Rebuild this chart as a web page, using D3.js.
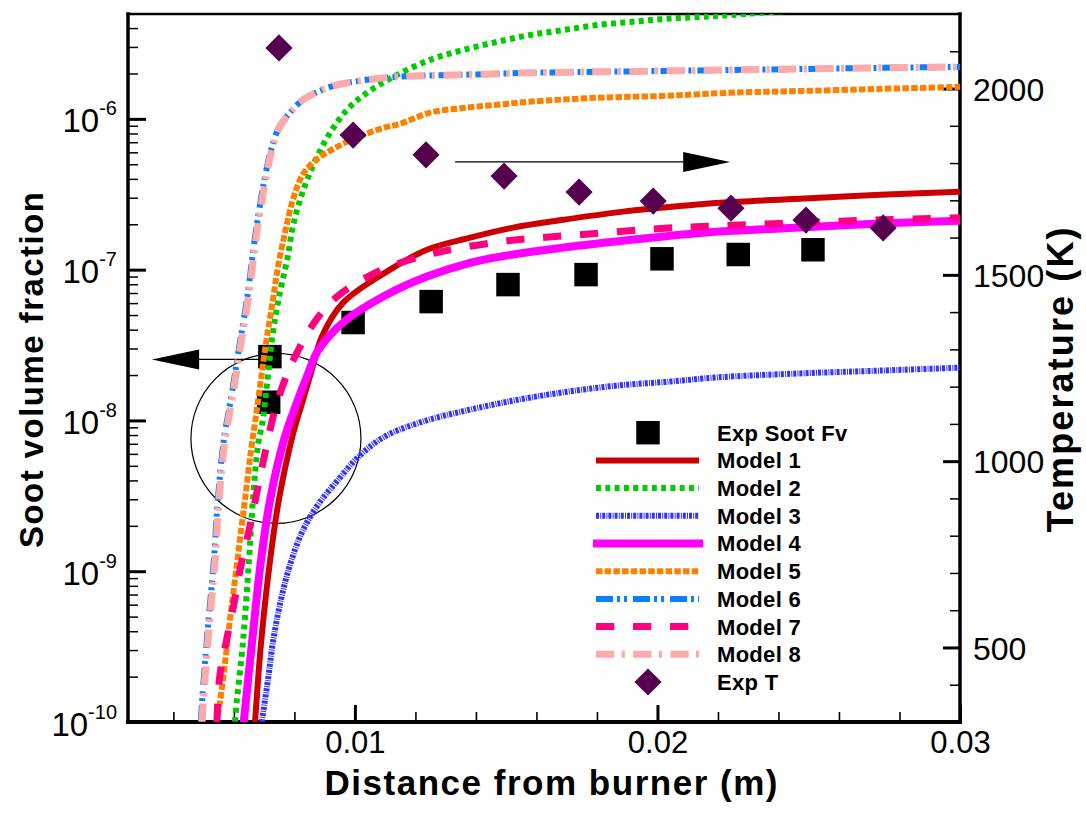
<!DOCTYPE html>
<html>
<head>
<meta charset="utf-8">
<script src="https://cdn.jsdelivr.net/npm/d3@7"></script>
<style>
  html, body { margin: 0; padding: 0; background: #fff; }
  svg { display: block; font-family: "Liberation Sans", Arial, Helvetica, sans-serif; }
</style>
</head>
<body>
<svg id="chart" width="1086" height="815"></svg>
<script>
// ---- axis ranges and ticks ----
const xDomain = [0.0025, 0.03];
const fvDomain = [1e-10, 4.96e-6];
const tDomain = [300, 2200];
const xMajorTicks = [0.01, 0.02, 0.03];
const xMinorTicks = [0.004, 0.006, 0.008, 0.012, 0.014, 0.016, 0.018, 0.022, 0.024, 0.026, 0.028];
const fvMajorTicks = [1e-10, 1e-9, 1e-8, 1e-7, 1e-6];
const tMajorTicks = [500, 1000, 1500, 2000];
const tMinorTicks = [400, 600, 700, 800, 900, 1100, 1200, 1300, 1400, 1600, 1700, 1800, 1900, 2100];

// ---- experimental soot volume fraction ----
const expSootX  = [0.00715, 0.00719, 0.00994, 0.01252, 0.01506, 0.01764, 0.02015, 0.02267, 0.02514];
const expSootFv = [1.32e-8, 2.65e-8, 4.46e-8, 6.14e-8, 7.96e-8, 9.27e-8, 1.18e-7, 1.26e-7, 1.355e-7];

// ---- experimental temperature (K) ----
const expTX = [0.00749, 0.00994, 0.01235, 0.01493, 0.01741, 0.01986, 0.02243, 0.02491, 0.02746];
const expT  = [2109, 1875, 1822, 1765, 1722, 1698, 1679, 1647, 1626];

// ---- model soot volume fraction profiles: [distance (m), fv] ----
const model1 = [[0.00660,5.69e-11],[0.00670,1.02e-10],[0.00690,3.39e-10],[0.00720,1.20e-9],[0.00749,3.00e-9],[0.00795,8.07e-9],[0.00829,1.38e-8],[0.00858,2.18e-8],[0.00891,3.60e-8],[0.00961,6.04e-8],[0.01100,9.55e-8],[0.01238,1.355e-7],[0.01381,1.63e-7],[0.01523,1.90e-7],[0.01688,2.14e-7],[0.01853,2.38e-7],[0.02019,2.58e-7],[0.02207,2.78e-7],[0.02471,2.95e-7],[0.02736,3.14e-7],[0.03000,3.29e-7]];
const model2 = [[0.00600,5.69e-11],[0.00604,1.02e-10],[0.00630,3.39e-10],[0.00650,1.20e-9],[0.00663,3.0e-9],[0.00680,6.93e-9],[0.00696,1.02e-8],[0.00710,1.79e-8],[0.00729,3.83e-8],[0.00752,7.05e-8],[0.00776,1.16e-7],[0.00795,1.93e-7],[0.00819,2.91e-7],[0.00842,3.94e-7],[0.00875,5.60e-7],[0.00918,8.08e-7],[0.00974,1.15e-6],[0.01040,1.49e-6],[0.01133,1.93e-6],[0.01248,2.46e-6],[0.01357,2.86e-6],[0.01470,3.24e-6],[0.01579,3.60e-6],[0.01688,3.88e-6],[0.01800,4.19e-6],[0.01910,4.39e-6],[0.02019,4.59e-6],[0.02131,4.73e-6],[0.02240,4.88e-6],[0.02471,5.27e-6],[0.02736,5.60e-6],[0.03000,5.86e-6]];
const model3 = [[0.00676,5.69e-11],[0.00693,1.02e-10],[0.00713,1.93e-10],[0.00729,3.39e-10],[0.00756,6.53e-10],[0.00786,1.11e-9],[0.00826,1.83e-9],[0.00879,2.78e-9],[0.00945,4.05e-9],[0.01010,5.69e-9],[0.01093,7.71e-9],[0.01215,9.70e-9],[0.01381,1.18e-8],[0.01546,1.38e-8],[0.01711,1.56e-8],[0.01876,1.71e-8],[0.02042,1.81e-8],[0.02197,1.93e-8],[0.02471,2.05e-8],[0.02736,2.14e-8],[0.03000,2.24e-8]];
const model4 = [[0.00620,5.69e-11],[0.00633,1.02e-10],[0.00660,3.39e-10],[0.00690,1.20e-9],[0.00720,3.0e-9],[0.00766,7.48e-9],[0.00806,1.28e-8],[0.00842,1.97e-8],[0.00878,2.90e-8],[0.00961,4.46e-8],[0.01100,6.73e-8],[0.01238,9.0e-8],[0.01381,1.11e-7],[0.01523,1.26e-7],[0.01688,1.40e-7],[0.01853,1.53e-7],[0.02019,1.66e-7],[0.02207,1.79e-7],[0.02471,1.90e-7],[0.02736,2.02e-7],[0.03000,2.11e-7]];
const model5 = [[0.00541,5.69e-11],[0.00544,1.02e-10],[0.00554,1.36e-10],[0.00571,2.49e-10],[0.00587,4.81e-10],[0.00604,8.85e-10],[0.00620,1.63e-9],[0.00637,3.0e-9],[0.00657,6.43e-9],[0.00676,1.18e-8],[0.00703,2.95e-8],[0.00729,6.32e-8],[0.00746,1.05e-7],[0.00769,1.76e-7],[0.00795,2.91e-7],[0.00829,4.32e-7],[0.00875,5.41e-7],[0.00928,6.32e-7],[0.00994,7.34e-7],[0.01093,8.71e-7],[0.01149,9.27e-7],[0.01248,1.10e-6],[0.01357,1.18e-6],[0.01470,1.24e-6],[0.01579,1.30e-6],[0.01800,1.38e-6],[0.02019,1.42e-6],[0.02240,1.49e-6],[0.02471,1.53e-6],[0.02736,1.58e-6],[0.03000,1.63e-6]];
const model6 = [[0.00487,5.69e-11],[0.00491,1.02e-10],[0.00510,3.39e-10],[0.00534,1.20e-9],[0.00547,3.0e-9],[0.00567,7.48e-9],[0.00590,1.38e-8],[0.00616,2.95e-8],[0.00643,6.32e-8],[0.00672,1.76e-7],[0.00699,3.77e-7],[0.00723,6.24e-7],[0.00750,8.85e-7],[0.00785,1.10e-6],[0.00829,1.34e-6],[0.00918,1.63e-6],[0.00994,1.76e-6],[0.01093,1.87e-6],[0.01215,1.93e-6],[0.01357,1.96e-6],[0.01579,2.02e-6],[0.01800,2.05e-6],[0.02019,2.08e-6],[0.02240,2.11e-6],[0.02471,2.14e-6],[0.02736,2.18e-6],[0.03000,2.21e-6]];
const model7 = [[0.00541,5.69e-11],[0.00544,1.02e-10],[0.00553,1.99e-10],[0.00575,3.44e-10],[0.00600,6.04e-10],[0.00622,1.06e-9],[0.00650,1.87e-9],[0.00676,3.33e-9],[0.00702,5.96e-9],[0.00736,1.18e-8],[0.00769,1.87e-8],[0.00802,2.65e-8],[0.00868,4.53e-8],[0.00941,6.62e-8],[0.01043,9.0e-8],[0.01133,1.08e-7],[0.01272,1.30e-7],[0.01513,1.56e-7],[0.01754,1.71e-7],[0.01999,1.87e-7],[0.02207,1.95e-7],[0.02471,2.05e-7],[0.02736,2.14e-7],[0.03000,2.21e-7]];
const model8 = [[0.00491,5.69e-11],[0.00495,1.02e-10],[0.00514,3.39e-10],[0.00538,1.20e-9],[0.00551,3.0e-9],[0.00571,7.48e-9],[0.00594,1.38e-8],[0.00620,2.95e-8],[0.00647,6.32e-8],[0.00676,1.76e-7],[0.00703,3.77e-7],[0.00726,6.24e-7],[0.00752,8.85e-7],[0.00786,1.10e-6],[0.00829,1.34e-6],[0.00918,1.63e-6],[0.00994,1.76e-6],[0.01093,1.87e-6],[0.01215,1.93e-6],[0.01357,1.96e-6],[0.01579,2.02e-6],[0.01800,2.05e-6],[0.02019,2.08e-6],[0.02240,2.11e-6],[0.02471,2.14e-6],[0.02736,2.18e-6],[0.03000,2.21e-6]];

const modelNames = ["Model 1", "Model 2", "Model 3", "Model 4", "Model 5", "Model 6", "Model 7", "Model 8"];
const modelData = [model1, model2, model3, model4, model5, model6, model7, model8];

// line appearance per model
const modelStyles = [
  { color: "#cc0000", width: 6,   dash: null },
  { color: "#00cc00", width: 6,   dash: "5,4.3" },
  { color: "#3333ff", width: 6,   dash: "3,1.2,1,1" },
  { color: "#ff00ff", width: 8,   dash: null },
  { color: "#ff8000", width: 6,   dash: "6.5,2.2" },
  { color: "#0a80ff", width: 6,   dash: "17,4,3,4,3,6" },
  { color: "#ff0080", width: 7,   dash: "18.3,18.7" },
  { color: "#ffaaaa", width: 7,   dash: "18.3,7.3,3.3,8.3" }
];

// ---- layout ----
const W = 1086, H = 815;
const P = { left: 128, right: 960, top: 14, bottom: 722 };
const FONT = '"Liberation Sans", Arial, Helvetica, sans-serif';

const x  = d3.scaleLinear().domain(xDomain).range([P.left, P.right]);
const y  = d3.scaleLog().domain(fvDomain).range([P.bottom, P.top]);
const yT = d3.scaleLinear().domain(tDomain).range([P.bottom, P.top]);

const svg = d3.select("#chart");
svg.append("rect").attr("width", W).attr("height", H).attr("fill", "#fff");

svg.append("defs").append("clipPath").attr("id", "plot-clip")
  .append("rect")
  .attr("x", P.left).attr("y", P.top)
  .attr("width", P.right - P.left).attr("height", P.bottom - P.top);

// ---- axes ----
function styleAxis(g, width) {
  g.select(".domain").remove();
  g.selectAll(".tick line").attr("stroke", "#000").attr("stroke-width", width);
}

// bottom: distance
const xAxisG = svg.append("g").attr("transform", `translate(0,${P.bottom})`)
  .call(d3.axisBottom(x).tickValues(xMajorTicks).tickSize(-17).tickPadding(9)
        .tickFormat(d3.format(".2f")));
styleAxis(xAxisG, 3);
xAxisG.selectAll(".tick text").attr("font-size", 31).attr("font-family", FONT).attr("fill", "#000");
const xMinorG = svg.append("g").attr("transform", `translate(0,${P.bottom})`)
  .call(d3.axisBottom(x).tickValues(xMinorTicks).tickSize(-10).tickFormat(""));
styleAxis(xMinorG, 1.6);

// left: soot volume fraction (log)
const fvMinor = [];
d3.range(-10, -5).forEach(e => {
  for (let m = 2; m <= 9; m++) {
    const v = m * Math.pow(10, e);
    if (v < fvDomain[1]) fvMinor.push(v);
  }
});
const yMinorG = svg.append("g").attr("transform", `translate(${P.left},0)`)
  .call(d3.axisLeft(y).tickValues(fvMinor).tickSize(-10).tickFormat(""));
styleAxis(yMinorG, 1.5);
const yAxisG = svg.append("g").attr("transform", `translate(${P.left},0)`)
  .call(d3.axisLeft(y).tickValues(fvMajorTicks).tickSize(-18).tickFormat(""));
styleAxis(yAxisG, 3);
yAxisG.selectAll(".tick text").remove();
yAxisG.selectAll(".tick").each(function(d) {
  const exp = Math.round(Math.log10(d));
  const t = d3.select(this).append("text")
    .attr("x", -11).attr("y", 13)
    .attr("text-anchor", "end")
    .attr("font-family", FONT).attr("fill", "#000");
  t.append("tspan").attr("font-size", 33).text("10");
  t.append("tspan").attr("font-size", 20).attr("dy", -17).text(String(exp));
});

// right: temperature
const tMinorG = svg.append("g").attr("transform", `translate(${P.right},0)`)
  .call(d3.axisRight(yT).tickValues(tMinorTicks).tickSize(-10).tickFormat(""));
styleAxis(tMinorG, 1.5);
const tAxisG = svg.append("g").attr("transform", `translate(${P.right},0)`)
  .call(d3.axisRight(yT).tickValues(tMajorTicks).tickSize(-17).tickPadding(13)
        .tickFormat(d3.format("d")));
styleAxis(tAxisG, 3);
tAxisG.selectAll(".tick text").attr("font-size", 32).attr("font-family", FONT)
  .attr("fill", "#000").attr("dy", "0.36em");

// frame
const frame = svg.append("g").attr("stroke", "#000").attr("stroke-linecap", "square");
frame.append("line").attr("x1", P.left).attr("x2", P.right).attr("y1", P.top).attr("y2", P.top).attr("stroke-width", 2.5);
frame.append("line").attr("x1", P.left).attr("x2", P.right).attr("y1", P.bottom).attr("y2", P.bottom).attr("stroke-width", 4);
frame.append("line").attr("x1", P.left).attr("x2", P.left).attr("y1", P.top).attr("y2", P.bottom).attr("stroke-width", 3.5);
frame.append("line").attr("x1", P.right).attr("x2", P.right).attr("y1", P.top).attr("y2", P.bottom).attr("stroke-width", 3.5);

// ---- axis titles ----
svg.append("text")
  .attr("x", 551).attr("y", 795).attr("text-anchor", "middle")
  .attr("font-family", FONT).attr("font-weight", "bold").attr("font-size", 35)
  .attr("textLength", 453).attr("lengthAdjust", "spacing")
  .text("Distance from burner (m)");
svg.append("text")
  .attr("transform", "translate(43,370) rotate(-90)").attr("text-anchor", "middle")
  .attr("font-family", FONT).attr("font-weight", "bold").attr("font-size", 33)
  .attr("textLength", 356).attr("lengthAdjust", "spacing")
  .text("Soot volume fraction");
svg.append("text")
  .attr("transform", "translate(1073,380) rotate(-90)").attr("text-anchor", "middle")
  .attr("font-family", FONT).attr("font-weight", "bold").attr("font-size", 36)
  .attr("textLength", 305).attr("lengthAdjust", "spacing")
  .text("Temperature (K)");

// ---- annotations: highlight circle and axis arrows ----
const ann = svg.append("g").attr("stroke", "#000").attr("fill", "none");
ann.append("circle")
  .attr("cx", x(0.00739)).attr("cy", y(7.6e-9)).attr("r", 85)
  .attr("stroke-width", 1.2);
const leftArrowY = y(2.54e-8);
ann.append("line")
  .attr("x1", x(0.00703)).attr("x2", x(0.00485))
  .attr("y1", leftArrowY).attr("y2", leftArrowY).attr("stroke-width", 1.2);
svg.append("path").attr("fill", "#000")
  .attr("d", `M${x(0.00329)},${leftArrowY} L${x(0.00485)},${leftArrowY - 10} L${x(0.00485)},${leftArrowY + 10} Z`);
const rightArrowY = yT(1803);
ann.append("line")
  .attr("x1", x(0.01331)).attr("x2", x(0.02085))
  .attr("y1", rightArrowY).attr("y2", rightArrowY).attr("stroke-width", 1.2);
svg.append("path").attr("fill", "#000")
  .attr("d", `M${x(0.0224)},${rightArrowY} L${x(0.02085)},${rightArrowY - 10} L${x(0.02085)},${rightArrowY + 10} Z`);

// ---- experimental soot points (under the model curves) ----
const squareSym = d3.symbol(d3.symbolSquare, 23.5 * 23.5);
svg.append("g").selectAll("path")
  .data(expSootX.map((d, i) => [d, expSootFv[i]]))
  .join("path")
  .attr("d", squareSym)
  .attr("transform", d => `translate(${x(d[0])},${y(d[1])})`)
  .attr("fill", "#000");

// ---- model curves ----
const line = d3.line().x(d => x(d[0])).y(d => y(d[1])).curve(d3.curveCatmullRom.alpha(0.5));
const curves = svg.append("g").attr("clip-path", "url(#plot-clip)");
modelData.forEach((data, i) => {
  const s = modelStyles[i];
  curves.append("path")
    .datum(data)
    .attr("d", line)
    .attr("fill", "none")
    .attr("stroke", s.color)
    .attr("stroke-width", s.width)
    .attr("stroke-dasharray", s.dash)
    .attr("stroke-linejoin", "round");
});

// ---- experimental temperature points ----
const diamondSym = d3.symbol(d3.symbolSquare, 19.2 * 19.2);
svg.append("g").selectAll("path")
  .data(expTX.map((d, i) => [d, expT[i]]))
  .join("path")
  .attr("d", diamondSym)
  .attr("transform", d => `translate(${x(d[0])},${yT(d[1])}) rotate(45)`)
  .attr("fill", "#560050");

// ---- legend ----
const legendRows = ["Exp Soot Fv", ...modelNames, "Exp T"];
const legend = svg.append("g");
const rowY = i => 432.7 + i * 27.7;
legendRows.forEach((name, i) => {
  const ry = rowY(i);
  if (i === 0) {
    legend.append("path").attr("d", squareSym).attr("fill", "#000")
      .attr("transform", `translate(648,${ry})`);
  } else if (i === legendRows.length - 1) {
    legend.append("path").attr("d", diamondSym).attr("fill", "#560050")
      .attr("transform", `translate(648,${ry}) rotate(45)`);
  } else {
    const s = modelStyles[i - 1];
    const wide = s.width >= 8;
    legend.append("line")
      .attr("x1", wide ? 593 : 596).attr("x2", wide ? 703 : 699)
      .attr("y1", ry).attr("y2", ry)
      .attr("stroke", s.color).attr("stroke-width", s.width)
      .attr("stroke-dasharray", s.dash);
  }
  legend.append("text")
    .attr("x", 717).attr("y", ry).attr("dy", "0.36em")
    .attr("font-family", FONT).attr("font-weight", "bold").attr("font-size", 22)
    .attr("letter-spacing", 0.3)
    .text(name);
});
</script>
</body>
</html>
